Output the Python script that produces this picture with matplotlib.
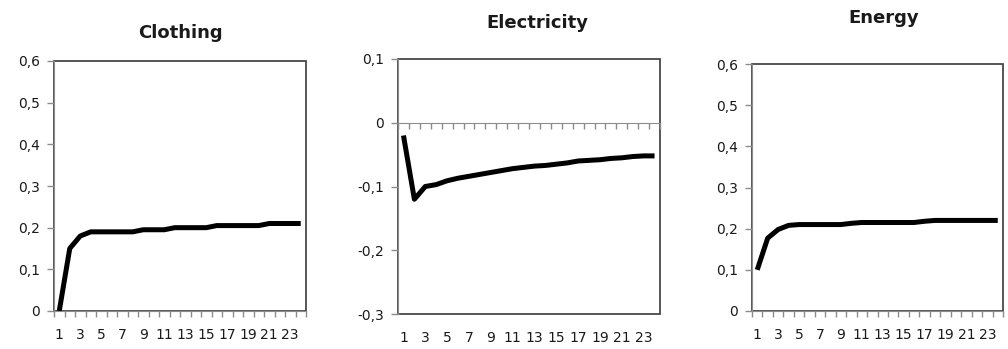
import matplotlib
matplotlib.use("Agg")
import matplotlib.pyplot as plt
from matplotlib.patches import Rectangle
from matplotlib.ticker import FuncFormatter

# periods 1..24
periods = list(range(1, 25))

clothing = [0.0, 0.15, 0.18, 0.19, 0.19, 0.19, 0.19, 0.19, 0.195, 0.195, 0.195, 0.2,
            0.2, 0.2, 0.2, 0.205, 0.205, 0.205, 0.205, 0.205, 0.21, 0.21, 0.21, 0.21]
electricity = [-0.02, -0.12, -0.10, -0.097, -0.091, -0.087, -0.084, -0.081, -0.078, -0.075,
               -0.072, -0.070, -0.068, -0.067, -0.065, -0.063, -0.060, -0.059, -0.058,
               -0.056, -0.055, -0.053, -0.052, -0.052]
energy = [0.10, 0.177, 0.198, 0.208, 0.21, 0.21, 0.21, 0.21, 0.21, 0.213, 0.215, 0.215,
          0.215, 0.215, 0.215, 0.215, 0.218, 0.22, 0.22, 0.22, 0.22, 0.22, 0.22, 0.22]

titles = ["Clothing", "Electricity", "Energy"]
ylims = [(0, 0.6), (-0.3, 0.1), (0, 0.6)]
yticks = [[0, 0.1, 0.2, 0.3, 0.4, 0.5, 0.6], [-0.3, -0.2, -0.1, 0, 0.1], [0, 0.1, 0.2, 0.3, 0.4, 0.5, 0.6]]
xlabels = [str(p) for p in periods if p % 2 == 1]

# axes boxes in figure fraction and title spots (pixels from top-left)
boxes = [[54 / 1008, 38 / 349, 252 / 1008, 250 / 349],
         [398 / 1008, 35 / 349, 262 / 1008, 255 / 349],
         [752 / 1008, 38 / 349, 251 / 1008, 247 / 349]]
title_xy = [(180, 33), (537, 23), (884, 18)]

GRAY = "#8c8c8c"
DARK = "#3a3a3a"
TXT = "#1a1a1a"


def comma(v, pos):
    if abs(v) < 1e-9:
        return "0"
    return ("%.1f" % v).replace(".", ",")


plt.rcParams["font.family"] = "DejaVu Sans"
fig = plt.figure(figsize=(10.08, 3.49), dpi=100)

for i, series in enumerate([clothing, electricity, energy]):
    ax = fig.add_axes(boxes[i])
    ax.plot(periods, series, color="black", lw=3.6, solid_capstyle="butt",
            solid_joinstyle="round", zorder=3)
    ax.set_xlim(0.5, 24.5)
    ax.set_ylim(*ylims[i])
    ax.set_yticks(yticks[i])
    ax.yaxis.set_major_formatter(FuncFormatter(comma))
    ax.tick_params(axis="y", direction="out", length=5, width=1, color=GRAY,
                   labelsize=10, labelcolor=TXT, pad=5)

    for s in ["top", "right"]:
        ax.spines[s].set_visible(False)
    ax.spines["left"].set_color(GRAY)
    ax.spines["bottom"].set_color(GRAY)
    ax.add_patch(Rectangle((0, 0), 1, 1, transform=ax.transAxes, fill=False,
                           ec=DARK, lw=1.2, zorder=1, clip_on=False))

    # ticks between categories, labels on odd periods
    ax.set_xticks([p - 0.5 for p in periods] + [24.5], minor=True)
    ax.tick_params(axis="x", which="minor", direction="out", length=4, width=1, color=GRAY)

    if ylims[i][0] < 0:
        ax.spines["bottom"].set_position(("data", 0))
        ax.set_xticks([])
        sec = ax.secondary_xaxis("bottom")
        sec.set_xticks(periods[::2])
        sec.set_xticklabels(xlabels)
        sec.spines["bottom"].set_visible(False)
        sec.tick_params(axis="x", length=0, labelsize=10, labelcolor=TXT, pad=12)
    else:
        ax.set_xticks(periods[::2])
        ax.set_xticklabels(xlabels)
        ax.tick_params(axis="x", which="major", length=0, labelsize=10,
                       labelcolor=TXT, pad=12)

    tx, ty = title_xy[i]
    fig.text(tx / 1008, 1 - ty / 349, titles[i], ha="center", va="center",
             fontsize=13, fontweight="bold", color=TXT)

fig.savefig("out.png", dpi=100, facecolor="white")
